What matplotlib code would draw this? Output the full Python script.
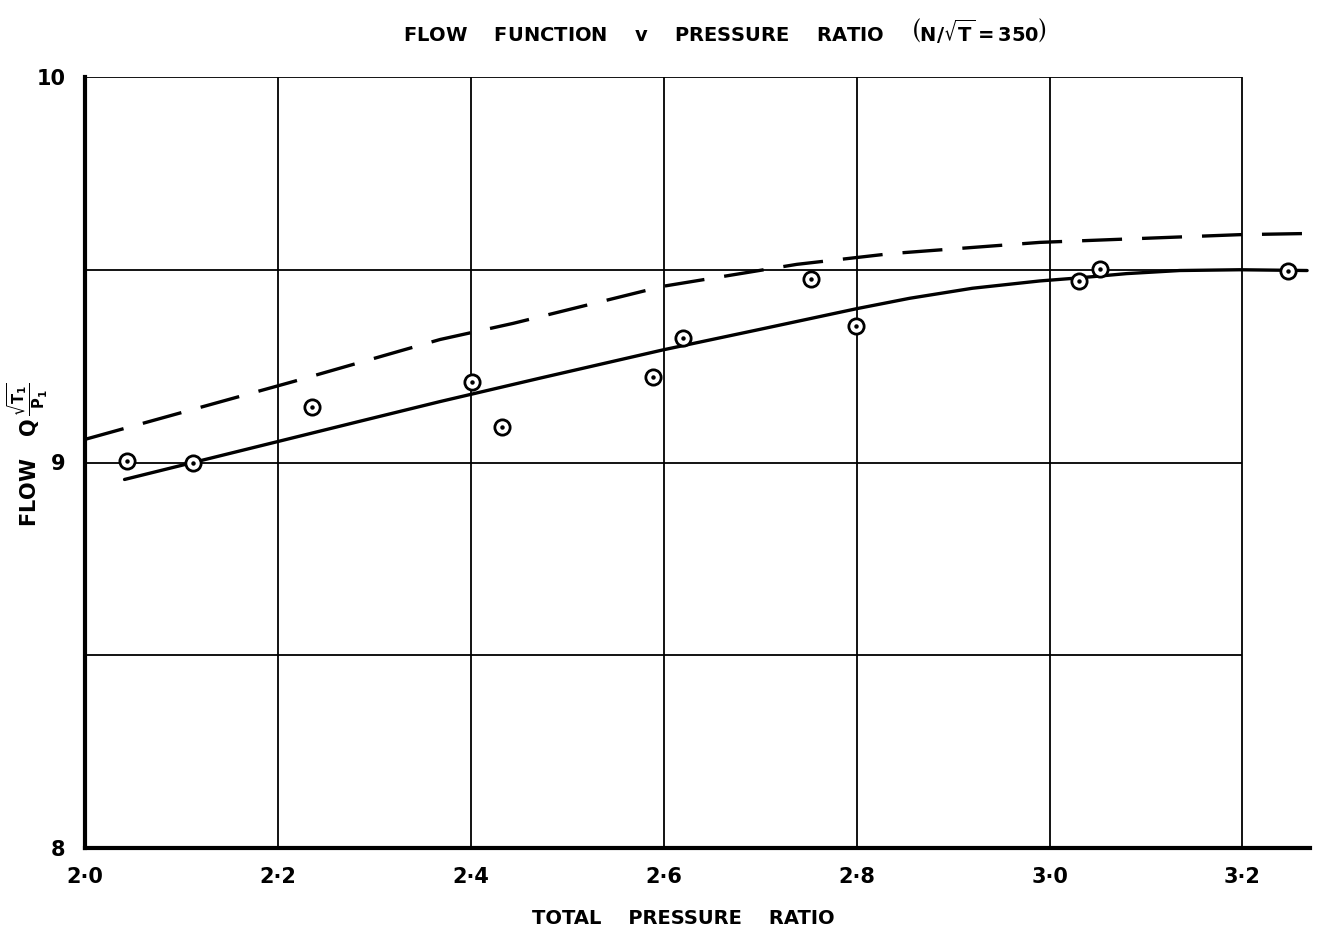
import numpy as np
import matplotlib.pyplot as plt

# test points (total pressure ratio, flow function)
pr_points = [2.044, 2.112, 2.235, 2.401, 2.432, 2.589, 2.620, 2.753, 2.799, 3.031, 3.052, 3.247]
flow_points = [9.005, 9.000, 9.143, 9.210, 9.093, 9.223, 9.324, 9.477, 9.353, 9.472, 9.503, 9.498]

# faired curve through test points (solid)
pr_solid = [2.041, 2.112, 2.285, 2.368, 2.472, 2.599, 2.699, 2.800, 2.855, 2.920, 2.990, 3.031, 3.080, 3.135, 3.197, 3.267]
flow_solid = [8.956, 9.000, 9.107, 9.158, 9.219, 9.292, 9.345, 9.399, 9.426, 9.452, 9.471, 9.479, 9.490, 9.498, 9.500, 9.498]

# dashed curve
pr_dash = [2.000, 2.216, 2.368, 2.444, 2.599, 2.738, 2.836, 2.990, 3.093, 3.197, 3.267]
flow_dash = [9.060, 9.210, 9.319, 9.361, 9.457, 9.514, 9.542, 9.571, 9.581, 9.591, 9.594]

x_ticks = [2.0, 2.2, 2.4, 2.6, 2.8, 3.0, 3.2]
x_labels = ["2·0", "2·2", "2·4", "2·6", "2·8", "3·0", "3·2"]
y_grid = [8.5, 9.0, 9.5, 10.0]
y_ticks = [8, 9, 10]

plt.rcParams['font.family'] = 'DejaVu Sans'
plt.rcParams['font.weight'] = 'bold'
plt.rcParams['mathtext.default'] = 'bf'

fig = plt.figure(figsize=(13.25, 9.35), dpi=100)
ax = fig.add_axes([85/1325, 1 - 848/935, (1310-85)/1325, (848-77)/935])

# grid box, only up to 3.2
ax.vlines(x_ticks[1:], 8, 10, color='black', lw=1.3, zorder=1)
ax.hlines(y_grid, 2.0, 3.2, color='black', lw=1.3, zorder=1)

ax.plot(pr_solid, flow_solid, color='black', lw=2.4, solid_capstyle='round',
        solid_joinstyle='round', zorder=3)
ax.plot(pr_dash, flow_dash, color='black', lw=2.4, dashes=(12, 6), zorder=3)

ax.plot(pr_points, flow_points, linestyle='none', marker='o', markersize=11,
        markerfacecolor='white', markeredgecolor='black', markeredgewidth=2.0, zorder=4)
ax.plot(pr_points, flow_points, linestyle='none', marker='o', markersize=2.2,
        color='black', zorder=5)

ax.set_xlim(2.0, 3.27)
ax.set_ylim(8, 10)
ax.spines['top'].set_visible(False)
ax.spines['right'].set_visible(False)
ax.spines['left'].set_linewidth(3)
ax.spines['bottom'].set_linewidth(3)

ax.set_xticks(x_ticks)
ax.set_xticklabels(x_labels, fontsize=15, fontweight='bold')
ax.set_yticks(y_ticks)
ax.set_yticklabels([str(v) for v in y_ticks], fontsize=15, fontweight='bold')
ax.tick_params(length=0, pad=14)

fig.text(725/1325, 1 - 30/935,
         r"FLOW    FUNCTION    v    PRESSURE    RATIO    $\left(N/\sqrt{T} = 350\right)$",
         ha='center', va='center', fontsize=14, fontweight='bold')
fig.text(683/1325, 1 - 918/935, "TOTAL    PRESSURE    RATIO",
         ha='center', va='center', fontsize=14, fontweight='bold')
fig.text(28/1325, 1 - 455/935, r"FLOW   $Q\,\frac{\sqrt{T_1}}{P_1}$",
         ha='center', va='center', rotation=90, fontsize=15, fontweight='bold')

fig.savefig("out.png", dpi=100)
